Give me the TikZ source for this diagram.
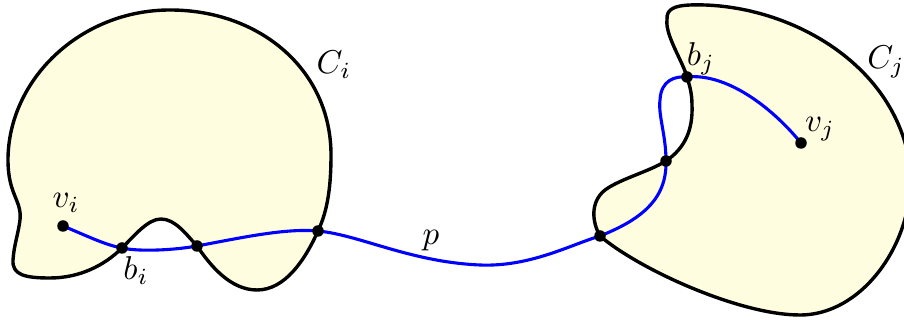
\documentclass[tikz,border=0pt]{standalone}
\definecolor{blobfill}{RGB}{255,253,223}
\begin{document}
\begin{tikzpicture}[x=1pt,y=1pt,
  outline/.style={line width=3.4pt, fill=blobfill, line join=round},
  pathp/.style={draw=blue, line width=3.1pt, line cap=round},
  dot/.style={circle, fill=black, inner sep=0pt, minimum size=11.5pt},
  lbl/.style={scale=3.3, inner sep=0.3pt}]
\useasboundingbox (0,0) rectangle (904,320);
\clip (0,0) rectangle (904,320);
% points
\coordinate (vi) at (63,94);
\coordinate (bi) at (122,72);
\coordinate (ci2) at (197,74);
\coordinate (ci3) at (318,89);
\coordinate (cj1) at (600,84);
\coordinate (cj2) at (666,159);
\coordinate (bj) at (687,243);
\coordinate (vj) at (801,177);
% left blob C_i
\draw[outline] (ci3) .. controls (328,110) and (331,135) .. (331,165)
  .. controls (331,250) and (260,310) .. (170,310)
  .. controls (80,310) and (8,240) .. (8,160)
  .. controls (8,125) and (22,120) .. (20,100)
  .. controls (18,85) and (14,75) .. (13,60)
  .. controls (12,45) and (25,42) .. (50,42)
  .. controls (80,42) and (105,55) .. (bi)
  .. controls (135,85) and (148,101) .. (161,101)
  .. controls (175,101) and (186,86) .. (ci2)
  .. controls (210,55) and (230,30) .. (257,30)
  .. controls (285,30) and (305,60) .. (ci3) -- cycle;
% right blob C_j
\draw[outline] (bj) .. controls (683,258) and (665,285) .. (667,300)
  .. controls (666,312) and (675,316) .. (705,315)
  .. controls (790,312) and (885,260) .. (907,170)
  .. controls (925,95) and (870,5) .. (800,5)
  .. controls (740,5) and (640,50) .. (cj1)
  .. controls (592,98) and (590,118) .. (605,130)
  .. controls (620,141) and (648,148) .. (cj2)
  .. controls (685,172) and (693,190) .. (692,215)
  .. controls (692,228) and (689,236) .. (bj) -- cycle;
% path p
\draw[pathp] (vi) .. controls (85,85) and (105,75) .. (bi)
  .. controls (140,68) and (175,70) .. (ci2)
  .. controls (240,82) and (285,92) .. (ci3)
  .. controls (360,85) and (410,58) .. (480,55)
  .. controls (530,53) and (570,75) .. (cj1)
  .. controls (640,100) and (667,120) .. (cj2)
  .. controls (666,185) and (658,205) .. (660,220)
  .. controls (661,240) and (675,244) .. (bj)
  .. controls (725,247) and (770,215) .. (vj);
% dots
\foreach \p in {vi,bi,ci2,ci3,cj1,cj2,bj,vj} \node[dot] (d\p) at (\p) {};
% labels
\node[lbl] (lvi) at (66,117) {$v_i$};
\node[lbl] (lbi) at (136,49) {$b_i$};
\node[lbl] (lci) at (334,255) {$C_i$};
\node[lbl] (lp) at (431,79) {$p$};
\node[lbl] (lbj) at (701,261) {$b_j$};
\node[lbl] (lvj) at (820,191) {$v_j$};
\node[lbl] (lcj) at (886,258) {$C_j$};
\end{tikzpicture}
\end{document}
